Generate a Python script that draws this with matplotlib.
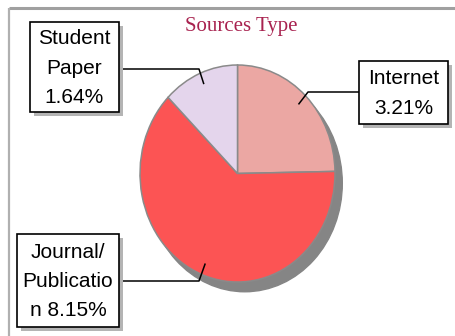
import numpy as np
import matplotlib
matplotlib.use('Agg')
import matplotlib.pyplot as plt
from matplotlib.patches import Ellipse, Rectangle

# data
labels = ['Internet', 'Journal/\nPublicatio\nn', 'Student\nPaper']
values = [3.21, 8.15, 1.64]
colors = ['#EBA7A3', '#FC5454', '#E4D5EC']
title = 'Sources Type'

W, H = 456, 336
fig = plt.figure(figsize=(W / 100, H / 100), dpi=100)

# pie axes (stretched a bit, pie is taller than wide)
px0, px1, py0, py1 = 140, 335, 65, 282
pie_ax = fig.add_axes([px0 / W, 1 - py1 / H, (px1 - px0) / W, (py1 - py0) / H])
wedges, _ = pie_ax.pie(values, colors=colors, startangle=90, counterclock=False,
                       radius=1, wedgeprops={'edgecolor': '#8a8a8a', 'linewidth': 1.1})
pie_ax.set_aspect('auto')
pie_ax.set_xlim(-1, 1)
pie_ax.set_ylim(-1, 1)
pie_ax.axis('off')
# shadow
pie_ax.add_patch(Ellipse((0.075, -0.09), 2, 2, color='#858585', zorder=0, clip_on=False))
for w in wedges:
    w.set_clip_on(False)
    w.set_zorder(2)

# overlay in pixel coords (top-left origin)
ov = fig.add_axes([0, 0, 1, 1], zorder=5)
ov.set_xlim(0, W)
ov.set_ylim(H, 0)
ov.axis('off')

# frame lines
ov.plot([9, W], [8, 8], color='#a0a0a0', lw=2.2, solid_capstyle='butt')
ov.plot([9, 9], [8, H], color='#b0b0b0', lw=1.6, solid_capstyle='butt')

ov.text(241, 31, title, family='Liberation Serif', fontsize=15,
        color='#A8224F', ha='center', va='baseline')


def anchor(w, r=0.9):
    ang = np.deg2rad((w.theta1 + w.theta2) / 2)
    p = pie_ax.transData.transform((r * np.cos(ang), r * np.sin(ang)))
    return ov.transData.inverted().transform(p)


# box layout: (x0, y0, x1, y1), elbow point, box attach point
boxes = [
    ((359, 61, 448, 124), (308, 92), (359, 92)),
    ((17, 234, 119, 327), (199, 281), (119, 281)),
    ((30, 22, 119, 112), (199, 69), (119, 69)),
]
for w, lab, val, (bx, elbow, att) in zip(wedges, labels, values, boxes):
    x0, y0, x1, y1 = bx
    ov.add_patch(Rectangle((x0 + 4, y0 + 4), x1 - x0, y1 - y0, facecolor='#b4b4b4',
                           edgecolor='none', zorder=3))
    ov.add_patch(Rectangle((x0, y0), x1 - x0, y1 - y0, facecolor='white',
                           edgecolor='black', lw=1.2, zorder=4))
    ax_, ay_ = anchor(w)
    ov.plot([ax_, elbow[0], att[0]], [ay_, elbow[1], att[1]], color='black', lw=1.1, zorder=2)
    txt = f'{lab}\n{val:.2f}%' if not lab.endswith('\nn') else f'{lab} {val:.2f}%'
    ov.text((x0 + x1) / 2, (y0 + y1) / 2 + 1, txt, family='Liberation Sans', fontsize=15,
            ha='center', va='center', ma='center', linespacing=1.7, zorder=5)

fig.savefig('out.png', dpi=100)
